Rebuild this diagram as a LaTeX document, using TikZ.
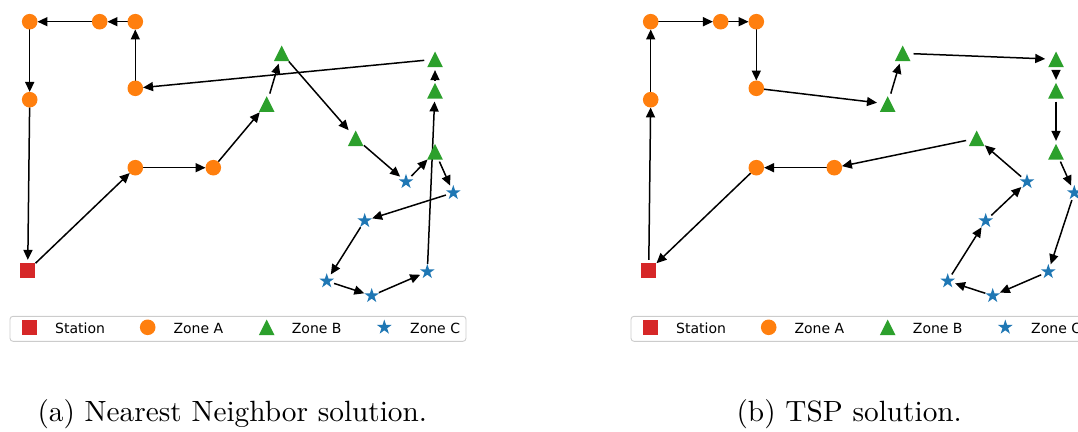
\documentclass[tikz,border=0pt]{standalone}
\usepackage{fontspec}
\newfontfamily\legfont{DejaVu Sans}
\usetikzlibrary{arrows.meta}
\definecolor{tred}{HTML}{D62728}
\definecolor{torange}{HTML}{FF7F0E}
\definecolor{tgreen}{HTML}{2CA02C}
\definecolor{tblue}{HTML}{1F77B4}
\definecolor{legedge}{HTML}{CCCCCC}
\tikzset{
  hitsmall/.style={circle, minimum size=15.5pt, inner sep=0pt, outer sep=0pt},
  hitbig/.style={circle, minimum size=21.6pt, inner sep=0pt, outer sep=0pt},
  edge/.style={-{Triangle[length=10pt,width=9pt]}, line width=1.5pt, black},
  legtext/.style={font=\legfont\fontsize{14}{16}\selectfont, anchor=base west, inner sep=0pt},
  legbox/.style={draw=legedge, fill=white, line width=0.9pt, rounded corners=3pt},
  captext/.style={font=\fontsize{10}{12}\selectfont, scale=2.93, anchor=base, inner sep=0pt},
}
\newcommand\mkSq[1]{\fill[tred] (#1.center) ++(-7.7,-7.7) rectangle ++(15.4,15.4);}
\newcommand\mkCirc[1]{\fill[torange] (#1.center) circle[radius=7.8];}
\newcommand\mkTri[1]{\fill[tgreen] (#1.center) ++(0,7.8) -- ++(-7.8,-15.6) -- ++(15.6,0) -- cycle;}
\newcommand\mkStar[1]{\fill[tblue, shift={(#1.center)}] (90:7.8) -- (126:2.98) -- (162:7.8) -- (198:2.98) -- (234:7.8) -- (270:2.98) -- (306:7.8) -- (342:2.98) -- (18:7.8) -- (54:2.98) -- cycle;}
\newcommand\placenodes[2]{%
  \begin{scope}[xshift=#2pt]
    \node[hitbig] (#1s) at (27.7,-270.7) {};
    \node[hitsmall] (#1a1) at (29.7,-21.7) {};
    \node[hitsmall] (#1a2) at (99.7,-21.7) {};
    \node[hitsmall] (#1a3) at (135.3,-21.7) {};
    \node[hitsmall] (#1a4) at (29.7,-99.7) {};
    \node[hitsmall] (#1a5) at (135.3,-88.3) {};
    \node[hitsmall] (#1a6) at (135.3,-167.7) {};
    \node[hitsmall] (#1a7) at (213.3,-167.7) {};
    \node[hitbig] (#1b1) at (281.7,-53.3) {};
    \node[hitbig] (#1b2) at (266.7,-104) {};
    \node[hitbig] (#1b3) at (355.7,-138.3) {};
    \node[hitbig] (#1b4) at (435,-59.3) {};
    \node[hitbig] (#1b5) at (435,-90.7) {};
    \node[hitbig] (#1b6) at (435,-151.7) {};
    \node[hitsmall] (#1c1) at (406,-181.7) {};
    \node[hitsmall] (#1c2) at (453.3,-192.7) {};
    \node[hitsmall] (#1c3) at (364.7,-220.7) {};
    \node[hitsmall] (#1c4) at (326.7,-281) {};
    \node[hitsmall] (#1c5) at (371.7,-295.7) {};
    \node[hitsmall] (#1c6) at (427.3,-271.7) {};
    % legend
    \draw[legbox] (10,-316.3) rectangle (466,-341.3);
    \coordinate (#1ls) at (29.3,-327.3);
    \coordinate (#1la) at (147.7,-327.3);
    \coordinate (#1lb) at (266.7,-327.3);
    \coordinate (#1lc) at (384.3,-327.3);
    \node[legtext] (#1t1) at (55,-333.5) {Station};
    \node[legtext] (#1t2) at (173.3,-333.5) {Zone A};
    \node[legtext] (#1t3) at (291.7,-333.5) {Zone B};
    \node[legtext] (#1t4) at (410,-333.5) {Zone C};
  \end{scope}}
\newcommand\drawmarkers[1]{%
  \mkSq{#1s}
  \foreach \i in {1,...,7} {\mkCirc{#1a\i}}
  \foreach \i in {1,...,6} {\mkTri{#1b\i}}
  \foreach \i in {1,...,6} {\mkStar{#1c\i}}
  \mkSq{#1ls}\mkCirc{#1la}\mkTri{#1lb}\mkStar{#1lc}}
\begin{document}
\begin{tikzpicture}[x=1pt,y=1pt]
\useasboundingbox (0,0) rectangle (1078,-431);
\clip (0,0) rectangle (1078,-431);
\placenodes{l}{0}
\placenodes{r}{621}
% (a) nearest neighbour tour
\foreach \u/\v in {s/a6,a6/a7,a7/b2,b2/b1,b1/b3,b3/c1,c1/b6,b6/c2,c2/c3,c3/c4,c4/c5,c5/c6,c6/b5,b5/b4,b4/a5,a5/a3,a3/a2,a2/a1,a1/a4,a4/s}
  {\draw[edge] (l\u) -- (l\v);}
% (b) TSP tour
\foreach \u/\v in {s/a4,a4/a1,a1/a2,a2/a3,a3/a5,a5/b2,b2/b1,b1/b4,b4/b5,b5/b6,b6/c2,c2/c6,c6/c5,c5/c4,c4/c3,c3/c1,c1/b3,b3/a7,a7/a6,a6/s}
  {\draw[edge] (r\u) -- (r\v);}
\drawmarkers{l}
\drawmarkers{r}
\node[captext] (capa) at (232.3,-421.7) {(a) Nearest Neighbor solution.};
\node[captext] (capb) at (849.2,-421.7) {(b) TSP solution.};
\end{tikzpicture}
\end{document}
